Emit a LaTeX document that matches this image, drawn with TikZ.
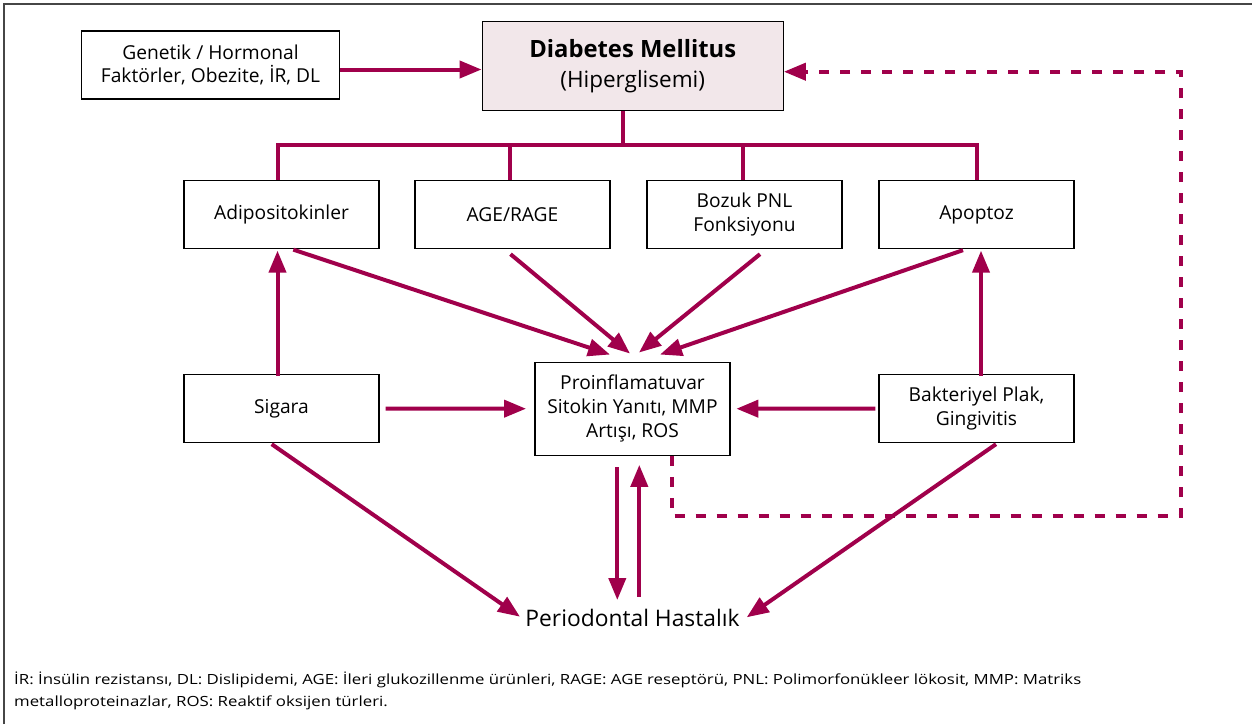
\documentclass[tikz,border=0pt]{standalone}
\usepackage{fontspec}
\setmainfont{Open Sans}
\newfontfamily\notefont[FakeStretch=1.2]{Open Sans}
\usetikzlibrary{arrows.meta,calc}
\definecolor{wine}{RGB}{160,0,75}
\definecolor{dmfill}{RGB}{242,231,234}
\definecolor{framegray}{RGB}{70,70,70}
\begin{document}
\begin{tikzpicture}[x=1pt,y=-1pt,
  box/.style={draw=black,line width=1.3pt,inner sep=0pt,align=center,
    font=\fontsize{19.2}{23.8}\selectfont,minimum width=195pt,minimum height=68pt},
  link/.style={draw=wine,line width=4pt},
  arr/.style={link,-{Triangle[length=22pt,width=17pt]}},
  fb/.style={link,dash pattern=on 10pt off 11pt,-{Triangle[length=22pt,width=17pt]}}]
\useasboundingbox (0,0) rectangle (1252,724);
% frame lines
\draw[framegray,line width=1.5pt] (4,724) -- (4,4) -- (1252,4);

% boxes
\node[box,minimum width=258pt] (gen) at (210.5,65) {Genetik / Hormonal\\Faktörler, Obezite, İR, DL};
\node[box,fill=dmfill,minimum width=301pt,minimum height=89pt,font=\fontsize{22.5}{29.5}\selectfont] (dm) at (632.7,66.3)
  {{\fontsize{23.8}{29.5}\selectfont\bfseries Diabetes Mellitus}\\(Hiperglisemi)};
\node[box] (adi) at (281.5,214.5) {Adipositokinler};
\node[box] (age) at (512.5,214.5) {AGE/RAGE};
\node[box] (pnl) at (744.5,214.5) {Bozuk PNL\\Fonksiyonu};
\node[box] (apo) at (976.5,214.5) {Apoptoz};
\node[box] (sig) at (281.5,408.5) {Sigara};
\node[box,minimum height=93pt] (pro) at (632.5,408.7) {Proinflamatuvar\\Sitokin Yanıtı, MMP\\Artışı, ROS};
\node[box] (bak) at (976.5,408.5) {Bakteriyel Plak,\\Gingivitis};
\node[inner sep=0pt,anchor=base,font=\fontsize{22.8}{26}\selectfont] (per) at (632.5,626.7) {Periodontal Hastalık};

% footnote (base anchor sits on the last line)
\node[inner sep=0pt,anchor=base west,align=left,font=\notefont\fontsize{14}{22}\selectfont] (note) at (14,706)
  {İR: İnsülin rezistansı, DL: Dislipidemi, AGE: İleri glukozillenme ürünleri, RAGE: AGE reseptörü, PNL: Polimorfonükleer lökosit, MMP: Matriks\\metalloproteinazlar, ROS: Reaktif oksijen türleri.};

% DM distribution bus
\draw[link] ([xshift=-9.4pt]dm.south) -- ++(0,34.7);
\draw[link] ([xshift=-3.8pt]adi.north) -- ++(0,-34.8) -| ([xshift=0.2pt]apo.north);
\draw[link] ([xshift=-2.5pt]age.north) -- ++(0,-34.8);
\draw[link] ([xshift=-1.5pt]pnl.north) -- ++(0,-34.8);

% arrows
\draw[arr] ([yshift=-4.5pt]gen.east) -- ([yshift=-4.5pt]gen.east -| dm.west);
\draw[arr] ([xshift=-4pt,yshift=-2pt]sig.north) -- ([xshift=-4pt,yshift=-1.5pt]adi.south);
\draw[arr] ([xshift=4.5pt,yshift=-2pt]bak.north) -- ([xshift=4.5pt,yshift=-1.5pt]apo.south);
\draw[arr] ([xshift=6pt]sig.east) -- ([xshift=-8.3pt]pro.west);
\draw[arr] ([xshift=-3pt]bak.west) -- ([xshift=5.7pt]pro.east);

\draw[arr] ($(adi.south)+(11.8,0.5)$) -- ($(pro.north)+(-22.5,-7)$);
\draw[arr] ($(age.south)+(-2,5)$) -- ($(pro.north)+(-2.5,-8)$);
\draw[arr] ($(pnl.south)+(15.5,5)$) -- ($(pro.north)+(6.5,-9)$);
\draw[arr] ($(apo.south)+(-13.5,1)$) -- ($(pro.north)+(27.5,-7)$);

\draw[arr] ($(sig.south)+(-9.8,1)$) -- ($(per.base)+(-112.5,-10)$);
\draw[arr] ($(bak.south)+(19.5,1)$) -- ($(per.base)+(114.2,-9.4)$);

\draw[arr] ($(pro.south)+(-15.2,11.5)$) -- ($(per.base)+(-15.2,-26.7)$);
\draw[arr] ($(per.base)+(6.8,-30)$) -- ($(pro.south)+(6.8,9)$);

% feedback loop
\coordinate (fbA) at (1180.7,516);
\coordinate (fbB) at (1180.7,71.7);
\draw[fb] ([xshift=39.2pt]pro.south) |- (fbA) -- (fbB) -- (fbB -| dm.east);
\end{tikzpicture}
\end{document}
